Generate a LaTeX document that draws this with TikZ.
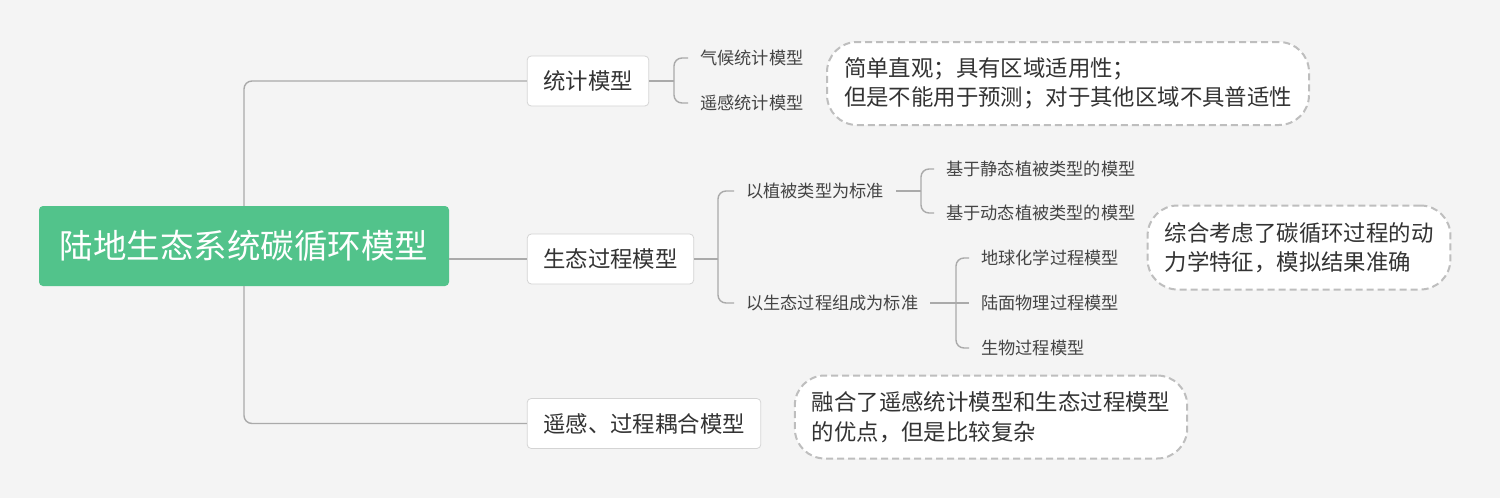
\documentclass[tikz,border=0pt]{standalone}
\usepackage{fontspec}
\setmainfont{Noto Sans CJK SC}
\usetikzlibrary{positioning}
\definecolor{bg}{RGB}{244,244,244}
\definecolor{rootgreen}{RGB}{82,195,139}
\definecolor{boxline}{RGB}{212,212,212}
\definecolor{linegray}{RGB}{170,170,170}
\definecolor{dashgray}{RGB}{190,190,190}
\definecolor{txt}{RGB}{51,51,51}
\definecolor{leaftxt}{RGB}{68,68,68}

\begin{document}
\begin{tikzpicture}[x=1pt,y=-1pt,
  root/.style={fill=rootgreen,text=white,rounded corners=4pt,minimum width=410pt,minimum height=80pt,text height=29.5pt,text depth=4pt,font=\fontsize{33.5}{40}\selectfont},
  topic/.style={draw=boxline,line width=0.8pt,fill=white,rounded corners=4pt,minimum height=50pt,inner xsep=16pt,text height=19.7pt,text depth=2.7pt,text=txt,font=\fontsize{22.4}{28}\selectfont},
  leaf/.style={anchor=west,inner xsep=12pt,inner ysep=0pt,text height=15.1pt,text depth=2.1pt,text=leaftxt,font=\fontsize{17.2}{20}\selectfont},
  note/.style={draw=dashgray,line width=2pt,dash pattern=on 7pt off 4pt,fill=white,rounded corners=30pt,align=left,inner xsep=17pt,text=txt,font=\fontsize{22.4}{29.5}\selectfont},
  link/.style={draw=linegray,line width=1.4pt,rounded corners=8pt}]
\fill[bg] (0,0) rectangle (1500,498);
\useasboundingbox (0,0) rectangle (1500,498);

\node[root] (root) at (244,246) {陆地生态系统碳循环模型};
\node[topic] (stat) at (588,81) {统计模型};
\node[topic] (eco) at (610.5,259) {生态过程模型};
\node[topic] (rs) at (644,423.5) {遥感、过程耦合模型};

\node[leaf] (clim) at (688,58) {气候统计模型};
\node[leaf] (rsstat) at (688,103) {遥感统计模型};
\node[leaf] (veg) at (734,191) {以植被类型为标准};
\node[leaf] (proc) at (734,303) {以生态过程组成为标准};
\node[leaf] (static) at (934,169) {基于静态植被类型的模型};
\node[leaf] (dyn) at (934,213) {基于动态植被类型的模型};
\node[leaf] (geo) at (969,258) {地球化学过程模型};
\node[leaf] (land) at (969,303) {陆面物理过程模型};
\node[leaf] (bio) at (969,348) {生物过程模型};

\node[note,minimum height=83pt] (n1) at (1068,83.5) {简单直观；具有区域适用性；\\但是不能用于预测；对于其他区域不具普适性};
\node[note,minimum height=84pt] (n2) at (1299,247.5) {综合考虑了碳循环过程的动\\力学特征，模拟结果准确};
\node[note,minimum height=83pt] (n3) at (991,417) {融合了遥感统计模型和生态过程模型\\的优点，但是比较复杂};

\draw[link] (root.north) |- (stat.west);
\draw[link] (root.south) |- (rs.west);
\draw[link] (root.east |- eco.west) -- (eco.west);

\coordinate (j1) at (674,81);
\coordinate (j2) at (718,259);
\coordinate (j3) at (921,191);
\coordinate (j4) at (956,303);
\draw[link] (stat.east) -- (j1);
\draw[link] (j1) |- (clim.west);
\draw[link] (j1) |- (rsstat.west);
\draw[link] (eco.east) -- (j2);
\draw[link] (j2) |- (veg.west);
\draw[link] (j2) |- (proc.west);
\draw[link] (veg.east) -- (j3);
\draw[link] (j3) |- (static.west);
\draw[link] (j3) |- (dyn.west);
\draw[link] (proc.east) -- (j4) -- (land.west);
\draw[link] (j4) |- (geo.west);
\draw[link] (j4) |- (bio.west);
\end{tikzpicture}
\end{document}
